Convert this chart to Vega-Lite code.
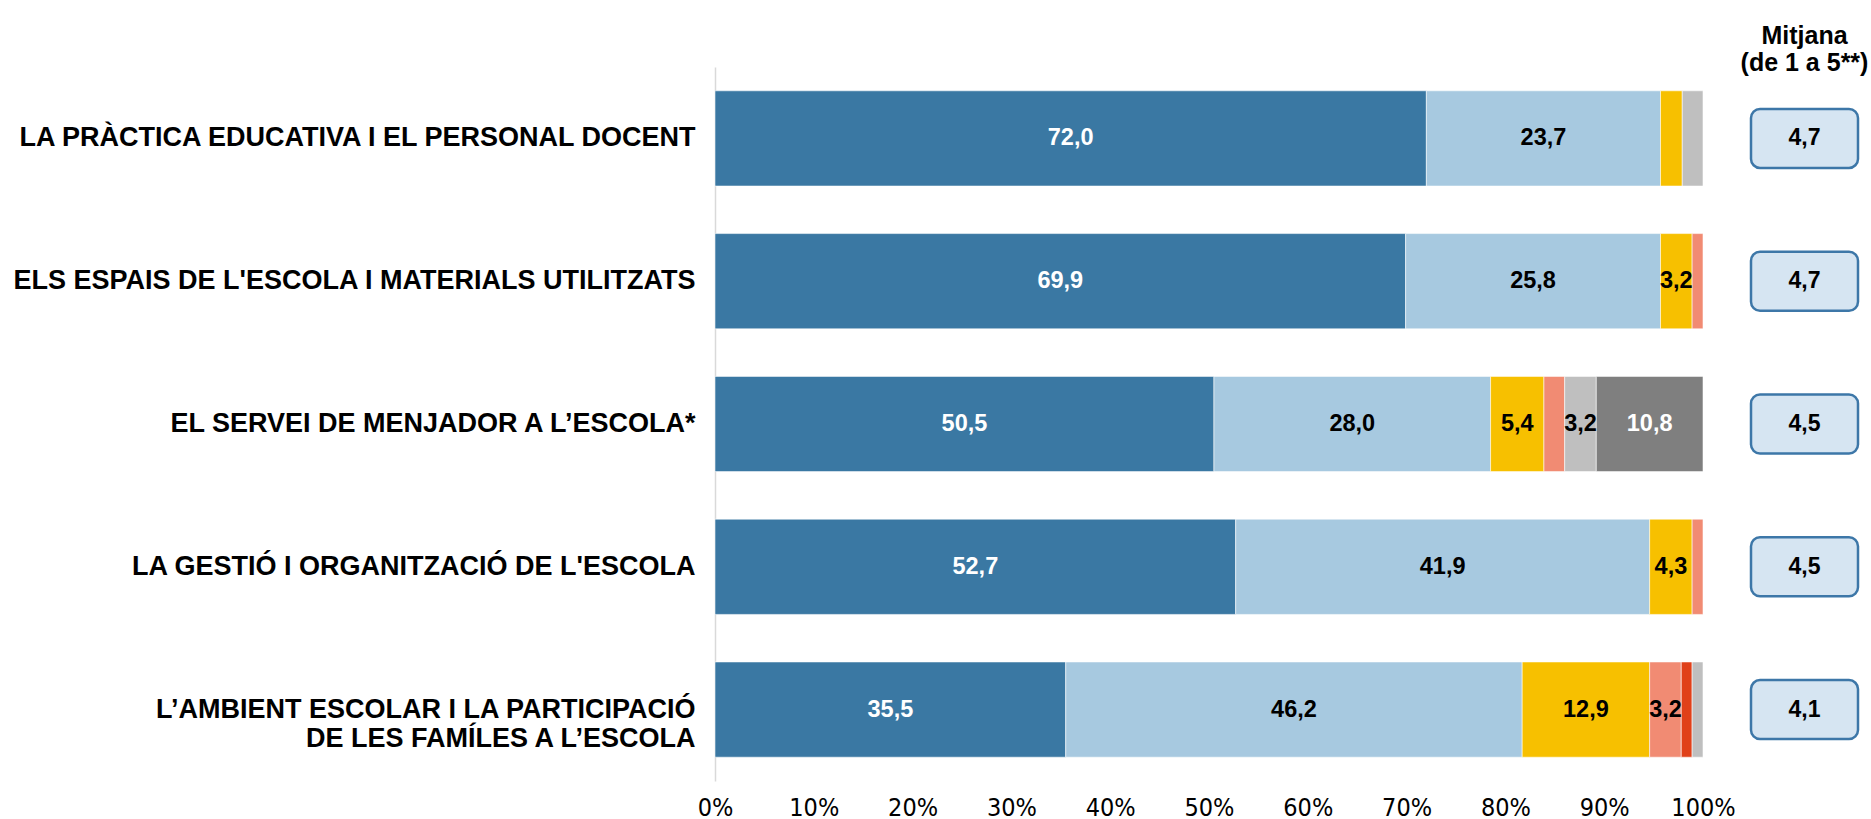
{
  "$schema": "https://vega.github.io/schema/vega-lite/v6.json",
  "background": "white",
  "padding": {"left": 12, "top": 24, "right": 0, "bottom": 0},
  "bounds": "flush",
  "spacing": 48,
  "config": {
    "view": {"stroke": null},
    "font": "Liberation Sans",
    "locale": {"number": {"decimal": ",", "thousands": ".", "grouping": [3], "currency": ["", " €"]}}
  },
  "datasets": {
    "barres": [
      {"aspecte": "LA PRÀCTICA EDUCATIVA I EL PERSONAL DOCENT", "categoria": "Molt satisfet", "ordre": 1, "valor": 72.0},
      {"aspecte": "LA PRÀCTICA EDUCATIVA I EL PERSONAL DOCENT", "categoria": "Bastant satisfet", "ordre": 2, "valor": 23.7},
      {"aspecte": "LA PRÀCTICA EDUCATIVA I EL PERSONAL DOCENT", "categoria": "Ni satisfet ni insatisfet", "ordre": 3, "valor": 2.2},
      {"aspecte": "LA PRÀCTICA EDUCATIVA I EL PERSONAL DOCENT", "categoria": "NS/NC", "ordre": 6, "valor": 2.1},
      {"aspecte": "ELS ESPAIS DE L'ESCOLA I MATERIALS UTILITZATS", "categoria": "Molt satisfet", "ordre": 1, "valor": 69.9},
      {"aspecte": "ELS ESPAIS DE L'ESCOLA I MATERIALS UTILITZATS", "categoria": "Bastant satisfet", "ordre": 2, "valor": 25.8},
      {"aspecte": "ELS ESPAIS DE L'ESCOLA I MATERIALS UTILITZATS", "categoria": "Ni satisfet ni insatisfet", "ordre": 3, "valor": 3.2},
      {"aspecte": "ELS ESPAIS DE L'ESCOLA I MATERIALS UTILITZATS", "categoria": "Poc satisfet", "ordre": 4, "valor": 1.1},
      {"aspecte": "EL SERVEI DE MENJADOR A L’ESCOLA*", "categoria": "Molt satisfet", "ordre": 1, "valor": 50.5},
      {"aspecte": "EL SERVEI DE MENJADOR A L’ESCOLA*", "categoria": "Bastant satisfet", "ordre": 2, "valor": 28.0},
      {"aspecte": "EL SERVEI DE MENJADOR A L’ESCOLA*", "categoria": "Ni satisfet ni insatisfet", "ordre": 3, "valor": 5.4},
      {"aspecte": "EL SERVEI DE MENJADOR A L’ESCOLA*", "categoria": "Poc satisfet", "ordre": 4, "valor": 2.1},
      {"aspecte": "EL SERVEI DE MENJADOR A L’ESCOLA*", "categoria": "NS/NC", "ordre": 6, "valor": 3.2},
      {"aspecte": "EL SERVEI DE MENJADOR A L’ESCOLA*", "categoria": "No n'és usuari", "ordre": 7, "valor": 10.8},
      {"aspecte": "LA GESTIÓ I ORGANITZACIÓ DE L'ESCOLA", "categoria": "Molt satisfet", "ordre": 1, "valor": 52.7},
      {"aspecte": "LA GESTIÓ I ORGANITZACIÓ DE L'ESCOLA", "categoria": "Bastant satisfet", "ordre": 2, "valor": 41.9},
      {"aspecte": "LA GESTIÓ I ORGANITZACIÓ DE L'ESCOLA", "categoria": "Ni satisfet ni insatisfet", "ordre": 3, "valor": 4.3},
      {"aspecte": "LA GESTIÓ I ORGANITZACIÓ DE L'ESCOLA", "categoria": "Poc satisfet", "ordre": 4, "valor": 1.1},
      {"aspecte": "L’AMBIENT ESCOLAR I LA PARTICIPACIÓ|DE LES FAMÍLES A L’ESCOLA", "categoria": "Molt satisfet", "ordre": 1, "valor": 35.5},
      {"aspecte": "L’AMBIENT ESCOLAR I LA PARTICIPACIÓ|DE LES FAMÍLES A L’ESCOLA", "categoria": "Bastant satisfet", "ordre": 2, "valor": 46.2},
      {"aspecte": "L’AMBIENT ESCOLAR I LA PARTICIPACIÓ|DE LES FAMÍLES A L’ESCOLA", "categoria": "Ni satisfet ni insatisfet", "ordre": 3, "valor": 12.9},
      {"aspecte": "L’AMBIENT ESCOLAR I LA PARTICIPACIÓ|DE LES FAMÍLES A L’ESCOLA", "categoria": "Poc satisfet", "ordre": 4, "valor": 3.2},
      {"aspecte": "L’AMBIENT ESCOLAR I LA PARTICIPACIÓ|DE LES FAMÍLES A L’ESCOLA", "categoria": "Gens satisfet", "ordre": 5, "valor": 1.1},
      {"aspecte": "L’AMBIENT ESCOLAR I LA PARTICIPACIÓ|DE LES FAMÍLES A L’ESCOLA", "categoria": "NS/NC", "ordre": 6, "valor": 1.1}
    ],
    "mitjanes": [
      {"aspecte": "LA PRÀCTICA EDUCATIVA I EL PERSONAL DOCENT", "mitjana": 4.7},
      {"aspecte": "ELS ESPAIS DE L'ESCOLA I MATERIALS UTILITZATS", "mitjana": 4.7},
      {"aspecte": "EL SERVEI DE MENJADOR A L’ESCOLA*", "mitjana": 4.5},
      {"aspecte": "LA GESTIÓ I ORGANITZACIÓ DE L'ESCOLA", "mitjana": 4.5},
      {"aspecte": "L’AMBIENT ESCOLAR I LA PARTICIPACIÓ|DE LES FAMÍLES A L’ESCOLA", "mitjana": 4.1}
    ]
  },
  "hconcat": [
    {
      "width": 988,
      "height": 714,
      "data": {"name": "barres"},
      "transform": [
        {"stack": "valor", "groupby": ["aspecte"], "sort": [{"field": "ordre", "order": "ascending"}], "as": ["x0", "x1"]},
        {"calculate": "(datum.x0 + datum.x1) / 2", "as": "xmig"}
      ],
      "encoding": {
        "y": {
          "field": "aspecte",
          "type": "nominal",
          "sort": null,
          "scale": {
            "domain": [
              "LA PRÀCTICA EDUCATIVA I EL PERSONAL DOCENT",
              "ELS ESPAIS DE L'ESCOLA I MATERIALS UTILITZATS",
              "EL SERVEI DE MENJADOR A L’ESCOLA*",
              "LA GESTIÓ I ORGANITZACIÓ DE L'ESCOLA",
              "L’AMBIENT ESCOLAR I LA PARTICIPACIÓ|DE LES FAMÍLES A L’ESCOLA"
            ],
            "paddingInner": 0.333,
            "paddingOuter": 0.1667
          },
          "axis": {
            "title": null,
            "ticks": false,
            "domain": true,
            "domainColor": "#D9D9D9",
            "domainWidth": 1.5,
            "labelFont": "Liberation Sans",
            "labelFontSize": 27,
            "labelFontWeight": "bold",
            "labelColor": "#000000",
            "labelPadding": 20,
            "labelLimit": 900,
            "labelLineHeight": 29,
            "labelExpr": "split(datum.label, '|')"
          }
        }
      },
      "layer": [
        {
          "mark": {"type": "bar", "stroke": "white", "strokeWidth": 0.8, "strokeOpacity": 0.7},
          "encoding": {
            "x": {
              "field": "x0",
              "type": "quantitative",
              "scale": {"domain": [0, 100], "nice": false},
              "axis": {
                "title": null,
                "values": [0, 10, 20, 30, 40, 50, 60, 70, 80, 90, 100],
                "labelExpr": "datum.value + '%'",
                "grid": false,
                "domain": false,
                "ticks": false,
                "labelFont": "Liberation Sans Narrow, Arial Narrow, DejaVu Sans Condensed, Liberation Sans",
                "labelFontSize": 25,
                "labelColor": "#000000",
                "labelPadding": 14,
                "labelFlush": false,
                "labelOverlap": false
              }
            },
            "x2": {"field": "x1"},
            "color": {
              "field": "categoria",
              "type": "nominal",
              "scale": {
                "domain": ["Molt satisfet", "Bastant satisfet", "Ni satisfet ni insatisfet", "Poc satisfet", "Gens satisfet", "NS/NC", "No n'és usuari"],
                "range": ["#3A78A3", "#A7C9E0", "#F7C000", "#F18B73", "#E04019", "#BFBFBF", "#7F7F7F"]
              },
              "legend": null
            }
          }
        },
        {
          "transform": [{"filter": "datum.valor >= 3"}],
          "mark": {"type": "text", "font": "Liberation Sans", "fontSize": 23.5, "fontWeight": "bold", "align": "center", "baseline": "middle"},
          "encoding": {
            "x": {"field": "xmig", "type": "quantitative"},
            "text": {"field": "valor", "type": "quantitative", "format": ".1f"},
            "color": {
              "condition": {"test": "datum.categoria === 'Molt satisfet' || datum.categoria === \"No n'és usuari\"", "value": "#FFFFFF"},
              "value": "#000000"
            }
          }
        }
      ]
    },
    {
      "width": 107,
      "height": 714,
      "data": {"name": "mitjanes"},
      "title": {
        "text": ["Mitjana", "(de 1 a 5**)"],
        "font": "Liberation Sans",
        "fontSize": 25,
        "fontWeight": "bold",
        "color": "#000000",
        "lineHeight": 27,
        "anchor": "middle",
        "offset": -9
      },
      "encoding": {
        "y": {
          "field": "aspecte",
          "type": "nominal",
          "sort": null,
          "scale": {
            "domain": [
              "LA PRÀCTICA EDUCATIVA I EL PERSONAL DOCENT",
              "ELS ESPAIS DE L'ESCOLA I MATERIALS UTILITZATS",
              "EL SERVEI DE MENJADOR A L’ESCOLA*",
              "LA GESTIÓ I ORGANITZACIÓ DE L'ESCOLA",
              "L’AMBIENT ESCOLAR I LA PARTICIPACIÓ|DE LES FAMÍLES A L’ESCOLA"
            ],
            "paddingInner": 0.587,
            "paddingOuter": 0.2935
          },
          "axis": null
        }
      },
      "layer": [
        {
          "mark": {"type": "bar", "cornerRadius": 9, "fill": "#D6E5F2", "stroke": "#3D77A8", "strokeWidth": 2.5},
          "encoding": {
            "x": {"datum": 0, "type": "quantitative", "scale": {"domain": [0, 1], "nice": false, "zero": false}, "axis": null},
            "x2": {"datum": 1}
          }
        },
        {
          "mark": {"type": "text", "font": "Liberation Sans", "fontSize": 23, "fontWeight": "bold", "color": "#000000", "align": "center", "baseline": "middle"},
          "encoding": {
            "x": {"datum": 0.5, "type": "quantitative"},
            "text": {"field": "mitjana", "type": "quantitative", "format": ".1f"}
          }
        }
      ]
    }
  ]
}
